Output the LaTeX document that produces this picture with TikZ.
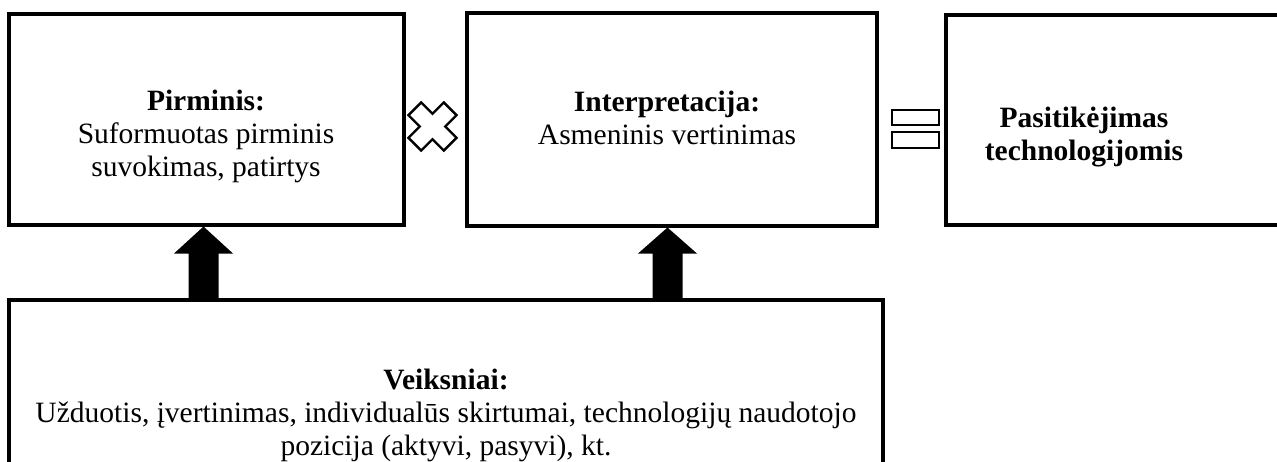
\documentclass[tikz,border=0pt]{standalone}
\usepackage{fontspec}
\setmainfont{Liberation Serif}
\usetikzlibrary{calc,fit}

\tikzset{
  box/.style={draw, line width=1.3pt, inner sep=0pt},
  lbl/.style={align=center, font=\fontsize{12.5}{14}\selectfont},
  sign/.style={line width=1pt},
  blk/.style={fill=black}
}

\begin{document}
\begin{tikzpicture}[x=0.4237pt,y=-0.4237pt]
	\useasboundingbox (0,0) rectangle (1277,462);
	\clip (0,0) rectangle (1277,462);
	% frames
	\node [box, fit={(9,14) (404,225)}] (pirm) {};
	\node [box, fit={(467,13) (877,226)}] (interp) {};
	\node [box, fit={(946,15) (1300,225)}] (pasit) {};
	\node [box, fit={(9,300) (883,490)}] (veik) {};
	% texts
	\node [lbl] (pirm-t) at (206,136) {\textbf{Pirminis:}\\Suformuotas pirminis\\suvokimas, patirtys};
	\node [lbl] (interp-t) at (667,118) {\textbf{Interpretacija:}\\Asmeninis vertinimas};
	\node [lbl] (pasit-t) at (1084,137) {\textbf{Pasitikėjimas}\\\textbf{technologijomis}};
	\node [lbl] (veik-t) at (446,415) {\textbf{Veiksniai:}\\Užduotis, įvertinimas, individualūs skirtumai, technologijų naudotojo\\pozicija (aktyvi, pasyvi), kt.};
	% times and equals
	\draw [sign, shift={(432.5,126.5)}, rotate=45] (9,25) -- (9,9) -- (25,9) -- (25,-9) -- (9,-9) -- (9,-25) -- (-9,-25) -- (-9,-9) -- (-25,-9) -- (-25,9) -- (-9,9) -- (-9,25) -- cycle;
	\draw [sign] (892,110) rectangle (939,125);
	\draw [sign] (892,132) rectangle (939,148);
	% factors push up
	\fill [blk] ($(veik.north -| pirm.south)+(-18,0)$) |- ($(pirm.south)+(-32.5,27)$) -- ($(pirm.south)+(-3,0)$) -- ($(pirm.south)+(26.5,27)$) -| ($(veik.north -| pirm.south)+(12,0)$) -- cycle;
	\fill [blk] ($(veik.north -| interp.south)+(-19.5,0)$) |- ($(interp.south)+(-34,26)$) -- ($(interp.south)+(-4.5,0)$) -- ($(interp.south)+(25,26)$) -| ($(veik.north -| interp.south)+(10.5,0)$) -- cycle;
\end{tikzpicture}
\end{document}
